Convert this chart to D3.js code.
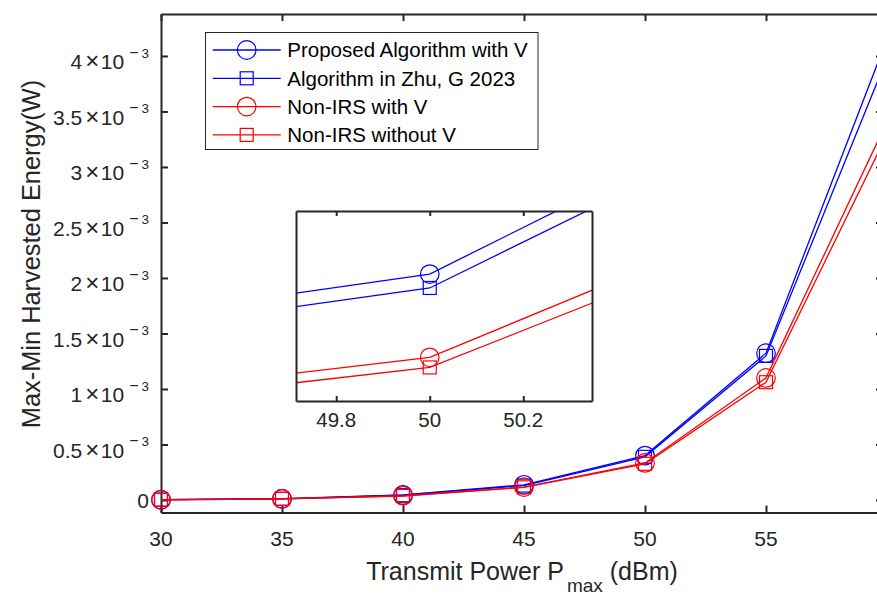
<!DOCTYPE html>
<html>
<head>
<meta charset="utf-8">
<script src="https://cdn.jsdelivr.net/npm/d3@7"></script>
<style>
  body { margin: 0; background: #fff; }
  svg { display: block; font-family: "Liberation Sans", Arial, Helvetica, sans-serif; }
</style>
</head>
<body>
<script>
// transmit power (dBm)
const xValues = [30, 35, 40, 45, 50, 55, 60];
// harvested energy, in units of 1e-3 W
const proposedWithV = [0.003, 0.012, 0.045, 0.137, 0.400, 1.323, 4.154];
const zhuG2023      = [0.003, 0.011, 0.043, 0.130, 0.389, 1.298, 3.980];
const nonIrsWithV   = [0.002, 0.010, 0.038, 0.116, 0.334, 1.100, 3.408];
const nonIrsNoV     = [0.002, 0.010, 0.036, 0.114, 0.326, 1.061, 3.293];

const seriesNames = ["Proposed Algorithm with V", "Algorithm in Zhu, G 2023", "Non-IRS with V", "Non-IRS without V"];
const seriesColors = ["#0000ff", "#0000ff", "#ff0000", "#ff0000"];
const seriesMarkers = ["circle", "square", "circle", "square"];

const xTicks = [30, 35, 40, 45, 50, 55, 60];
const xTickLabels = ["30", "35", "40", "45", "50", "55", ""];
const yTicks = [0, 0.5, 1, 1.5, 2, 2.5, 3, 3.5, 4];
const yTickLabels = ["0", "0.5", "1", "1.5", "2", "2.5", "3", "3.5", "4"];
const insetTicks = [49.8, 50, 50.2];
const insetTickLabels = ["49.8", "50", "50.2"];

const W = 877, H = 595;
const axColor = "#262626";

const series = [proposedWithV, zhuG2023, nonIrsWithV, nonIrsNoV].map(function(vals, i) {
  return {
    name: seriesNames[i], color: seriesColors[i], marker: seriesMarkers[i],
    points: vals.map(function(v, j) { return { x: xValues[j], y: v }; })
  };
});

const svg = d3.select("body").append("svg").attr("width", W).attr("height", H);

// main axes
const axLeft = 161, axRight = 887, axTop = 14, axBottom = 512.5;
const x = d3.scaleLinear().domain([30, 60]).range([axLeft, axRight]);
const y = d3.scaleLinear().domain([-0.1126, 4.378]).range([axBottom, axTop]);

function drawMarker(g, d, s, xs, ys) {
  if (s.marker === "circle") {
    g.append("circle").attr("cx", xs(d.x)).attr("cy", ys(d.y)).attr("r", 9.3)
      .attr("fill", "none").attr("stroke", s.color).attr("stroke-width", 1.2);
  } else {
    g.append("rect").attr("x", xs(d.x) - 6.5).attr("y", ys(d.y) - 6.5)
      .attr("width", 13).attr("height", 13)
      .attr("fill", "none").attr("stroke", s.color).attr("stroke-width", 1.2);
  }
}

function drawSeries(g, xs, ys) {
  series.forEach(function(s) {
    const line = d3.line().x(function(d) { return xs(d.x); }).y(function(d) { return ys(d.y); });
    g.append("path").datum(s.points).attr("d", line)
      .attr("fill", "none").attr("stroke", s.color).attr("stroke-width", 1.3);
    s.points.forEach(function(d) { drawMarker(g, d, s, xs, ys); });
  });
}

function styleAxis(g) {
  g.selectAll("path.domain").attr("stroke", axColor).attr("stroke-width", 2);
  g.selectAll(".tick line").attr("stroke", axColor).attr("stroke-width", 2);
  g.selectAll(".tick text").remove();
}

svg.append("g").attr("transform", "translate(0," + axBottom + ")")
  .call(d3.axisBottom(x).tickValues(xTicks).tickSizeInner(-7).tickSizeOuter(0)).call(styleAxis);
svg.append("g").attr("transform", "translate(0," + axTop + ")")
  .call(d3.axisTop(x).tickValues(xTicks).tickSizeInner(-7).tickSizeOuter(0)).call(styleAxis);
svg.append("g").attr("transform", "translate(" + axLeft + ",0)")
  .call(d3.axisLeft(y).tickValues(yTicks).tickSizeInner(-7).tickSizeOuter(0)).call(styleAxis);
svg.append("g").attr("transform", "translate(" + axRight + ",0)")
  .call(d3.axisRight(y).tickValues(yTicks).tickSizeInner(-11).tickSizeOuter(0)).call(styleAxis);

// x tick labels
svg.append("g").selectAll("text").data(xTicks).join("text")
  .attr("x", function(d) { return x(d); }).attr("y", 546)
  .attr("text-anchor", "middle").attr("font-size", 21).attr("fill", axColor)
  .text(function(d, i) { return xTickLabels[i]; });

// y tick labels, MATLAB style "k×10^-3"
const yl = svg.append("g").selectAll("text").data(yTicks).join("text")
  .attr("x", 149).attr("y", function(d) { return y(d) + (d === 0 ? 7.5 : 13.5); })
  .attr("text-anchor", "end").attr("font-size", 21).attr("fill", axColor);
yl.each(function(d, i) {
  const t = d3.select(this);
  if (d === 0) { t.text(yTickLabels[i]); return; }
  t.append("tspan").text(yTickLabels[i]);
  t.append("tspan").attr("dx", 3).attr("font-size", 24).text("\u00d7");
  t.append("tspan").attr("dx", 1.5).text("10");
  t.append("tspan").attr("dx", 5).attr("dy", -11.5).attr("font-size", 16).text("\u2212");
  t.append("tspan").attr("dx", 3).attr("font-size", 13.5).text("3");
});

// axis titles
svg.append("text").attr("transform", "translate(40,254) rotate(-90)")
  .attr("text-anchor", "middle").attr("font-size", 25.4).attr("fill", axColor)
  .text("Max-Min Harvested Energy(W)");

const xl = svg.append("text").attr("x", 522).attr("y", 580)
  .attr("text-anchor", "middle").attr("font-size", 25).attr("fill", axColor);
xl.append("tspan").text("Transmit Power P");
xl.append("tspan").attr("dx", 3).attr("dy", 12).attr("font-size", 19).text("max");
xl.append("tspan").attr("dy", -12).text(" (dBm)");

// data
const plot = svg.append("g");
drawSeries(plot, x, y);

// legend
const lg = svg.append("g");
lg.append("rect").attr("x", 205.5).attr("y", 32.5).attr("width", 332.5).attr("height", 117)
  .attr("fill", "#fff").attr("stroke", axColor).attr("stroke-width", 1);
series.forEach(function(s, i) {
  const cy = 50 + i * 28.3;
  lg.append("line").attr("x1", 212.7).attr("x2", 280.7).attr("y1", cy).attr("y2", cy)
    .attr("stroke", s.color).attr("stroke-width", 1.3);
  const lx = d3.scaleLinear().domain([0, 1]).range([246.7, 247.7]);
  const ly = d3.scaleLinear().domain([0, 1]).range([cy, cy - 1]);
  drawMarker(lg, { x: 0, y: 0 }, s, lx, ly);
  lg.append("text").attr("x", 287.3).attr("y", cy).attr("dy", "0.36em")
    .attr("font-size", 20.5).attr("fill", "#000").text(s.name);
});

// inset (zoom around 50 dBm)
const iL = 296, iR = 592, iT = 211, iB = 401;
const ix = d3.scaleLinear().domain([49.714, 50.347]).range([iL, iR]);
const iy = d3.scaleLinear().domain([0.2994, 0.45]).range([iB, iT]);
svg.append("defs").append("clipPath").attr("id", "insetClip")
  .append("rect").attr("x", iL).attr("y", iT).attr("width", iR - iL).attr("height", iB - iT);
svg.append("rect").attr("x", iL).attr("y", iT).attr("width", iR - iL).attr("height", iB - iT).attr("fill", "#fff");
const ig = svg.append("g").attr("clip-path", "url(#insetClip)");
drawSeries(ig, ix, iy);
svg.append("g").attr("transform", "translate(0," + iB + ")")
  .call(d3.axisBottom(ix).tickValues(insetTicks).tickSizeInner(-5).tickSizeOuter(0)).call(styleAxis);
svg.append("g").attr("transform", "translate(0," + iT + ")")
  .call(d3.axisTop(ix).tickValues(insetTicks).tickSizeInner(-5).tickSizeOuter(0)).call(styleAxis);
svg.append("g").attr("transform", "translate(" + iL + ",0)")
  .call(d3.axisLeft(iy).tickValues([]).tickSizeOuter(0)).call(styleAxis);
svg.append("g").attr("transform", "translate(" + iR + ",0)")
  .call(d3.axisRight(iy).tickValues([]).tickSizeOuter(0)).call(styleAxis);
svg.append("g").selectAll("text").data(insetTicks).join("text")
  .attr("x", function(d) { return ix(d); }).attr("y", 426.5)
  .attr("text-anchor", "middle").attr("font-size", 20.5).attr("fill", axColor)
  .text(function(d, i) { return insetTickLabels[i]; });
</script>
</body>
</html>
